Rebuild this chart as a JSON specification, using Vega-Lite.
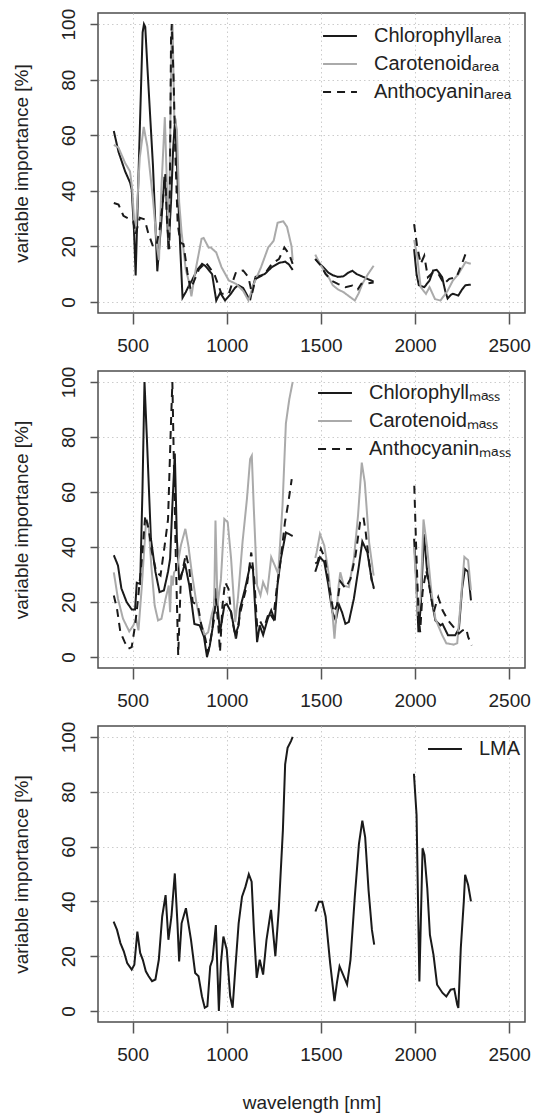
{
  "$schema": "https://vega.github.io/schema/vega-lite/v6.json",
  "padding": {"left": 11, "top": 7, "right": 0, "bottom": 0},
  "spacing": 9,
  "resolve": {"scale": {"color": "independent", "strokeDash": "independent"}, "legend": {"color": "independent", "strokeDash": "independent"}},
  "config": {
    "font": "Liberation Sans",
    "view": {"stroke": "#4d4d4d", "strokeWidth": 1.5},
    "axis": {
      "labelFontSize": 19, "labelColor": "#222", "titleFontSize": 19, "titleFontWeight": "normal", "titleColor": "#222",
      "domain": false, "tickColor": "#555", "tickWidth": 1.5, "gridColor": "#cccccc", "gridDash": [1.5, 3], "gridWidth": 1
    },
    "axisY": {"labelAngle": -90, "labelAlign": "center", "labelBaseline": "bottom", "tickSize": 8, "labelPadding": 12, "titlePadding": 28},
    "axisX": {"tickSize": 11, "labelPadding": 12, "labelBaseline": "top", "format": "d"},
    "legend": {"symbolType": "stroke", "symbolSize": 1150, "symbolStrokeWidth": 2, "labelFontSize": 20, "labelColor": "#222", "labelOffset": 16, "rowPadding": -10, "padding": 0, "titleFontSize": 0},
    "line": {"strokeWidth": 2}
  },
  "vconcat": [
    {
      "width": 427, "height": 300,
      "data": {"values": [
        {"pigment":"Chlorophyll","seg":1,"wl":400,"imp":61.5},{"pigment":"Chlorophyll","seg":1,"wl":425,"imp":54},{"pigment":"Chlorophyll","seg":1,"wl":460,"imp":47},{"pigment":"Chlorophyll","seg":1,"wl":486,"imp":43},{"pigment":"Chlorophyll","seg":1,"wl":495,"imp":40.5},{"pigment":"Chlorophyll","seg":1,"wl":507,"imp":26},{"pigment":"Chlorophyll","seg":1,"wl":516,"imp":9.5},{"pigment":"Chlorophyll","seg":1,"wl":535,"imp":55},{"pigment":"Chlorophyll","seg":1,"wl":553,"imp":97},{"pigment":"Chlorophyll","seg":1,"wl":560,"imp":100},{"pigment":"Chlorophyll","seg":1,"wl":567,"imp":99},{"pigment":"Chlorophyll","seg":1,"wl":578,"imp":85},{"pigment":"Chlorophyll","seg":1,"wl":608,"imp":49},{"pigment":"Chlorophyll","seg":1,"wl":631,"imp":11},{"pigment":"Chlorophyll","seg":1,"wl":652,"imp":28.5},{"pigment":"Chlorophyll","seg":1,"wl":669,"imp":45},{"pigment":"Chlorophyll","seg":1,"wl":678,"imp":40},{"pigment":"Chlorophyll","seg":1,"wl":690,"imp":19},{"pigment":"Chlorophyll","seg":1,"wl":704,"imp":36},{"pigment":"Chlorophyll","seg":1,"wl":715,"imp":55},{"pigment":"Chlorophyll","seg":1,"wl":726,"imp":66},{"pigment":"Chlorophyll","seg":1,"wl":739,"imp":43},{"pigment":"Chlorophyll","seg":1,"wl":753,"imp":19},{"pigment":"Chlorophyll","seg":1,"wl":765,"imp":1.5},{"pigment":"Chlorophyll","seg":1,"wl":782,"imp":3.5},{"pigment":"Chlorophyll","seg":1,"wl":800,"imp":6},{"pigment":"Chlorophyll","seg":1,"wl":817,"imp":8},{"pigment":"Chlorophyll","seg":1,"wl":843,"imp":11.5},{"pigment":"Chlorophyll","seg":1,"wl":869,"imp":13.7},{"pigment":"Chlorophyll","seg":1,"wl":885,"imp":13},{"pigment":"Chlorophyll","seg":1,"wl":904,"imp":11.5},{"pigment":"Chlorophyll","seg":1,"wl":922,"imp":10},{"pigment":"Chlorophyll","seg":1,"wl":944,"imp":0.5},{"pigment":"Chlorophyll","seg":1,"wl":965,"imp":3.3},{"pigment":"Chlorophyll","seg":1,"wl":991,"imp":0.5},{"pigment":"Chlorophyll","seg":1,"wl":1017,"imp":2.5},{"pigment":"Chlorophyll","seg":1,"wl":1043,"imp":5},{"pigment":"Chlorophyll","seg":1,"wl":1060,"imp":6},{"pigment":"Chlorophyll","seg":1,"wl":1087,"imp":5},{"pigment":"Chlorophyll","seg":1,"wl":1115,"imp":1.5},{"pigment":"Chlorophyll","seg":1,"wl":1125,"imp":1},{"pigment":"Chlorophyll","seg":1,"wl":1134,"imp":4},{"pigment":"Chlorophyll","seg":1,"wl":1153,"imp":9},{"pigment":"Chlorophyll","seg":1,"wl":1180,"imp":9.5},{"pigment":"Chlorophyll","seg":1,"wl":1201,"imp":10},{"pigment":"Chlorophyll","seg":1,"wl":1239,"imp":12.5},{"pigment":"Chlorophyll","seg":1,"wl":1277,"imp":14},{"pigment":"Chlorophyll","seg":1,"wl":1310,"imp":14.5},{"pigment":"Chlorophyll","seg":1,"wl":1330,"imp":13.5},{"pigment":"Chlorophyll","seg":1,"wl":1350,"imp":11.5},
        {"pigment":"Chlorophyll","seg":2,"wl":1470,"imp":15.5},{"pigment":"Chlorophyll","seg":2,"wl":1490,"imp":14},{"pigment":"Chlorophyll","seg":2,"wl":1515,"imp":12.3},{"pigment":"Chlorophyll","seg":2,"wl":1540,"imp":10.5},{"pigment":"Chlorophyll","seg":2,"wl":1563,"imp":9.6},{"pigment":"Chlorophyll","seg":2,"wl":1590,"imp":9},{"pigment":"Chlorophyll","seg":2,"wl":1620,"imp":9.2},{"pigment":"Chlorophyll","seg":2,"wl":1645,"imp":10.5},{"pigment":"Chlorophyll","seg":2,"wl":1667,"imp":11.2},{"pigment":"Chlorophyll","seg":2,"wl":1690,"imp":10},{"pigment":"Chlorophyll","seg":2,"wl":1715,"imp":9.3},{"pigment":"Chlorophyll","seg":2,"wl":1750,"imp":8.2},{"pigment":"Chlorophyll","seg":2,"wl":1780,"imp":7.3},
        {"pigment":"Chlorophyll","seg":3,"wl":1995,"imp":19},{"pigment":"Chlorophyll","seg":3,"wl":2008,"imp":10},{"pigment":"Chlorophyll","seg":3,"wl":2020,"imp":6},{"pigment":"Chlorophyll","seg":3,"wl":2049,"imp":5.3},{"pigment":"Chlorophyll","seg":3,"wl":2077,"imp":7.7},{"pigment":"Chlorophyll","seg":3,"wl":2096,"imp":11.3},{"pigment":"Chlorophyll","seg":3,"wl":2115,"imp":11.5},{"pigment":"Chlorophyll","seg":3,"wl":2125,"imp":10.7},{"pigment":"Chlorophyll","seg":3,"wl":2144,"imp":8.9},{"pigment":"Chlorophyll","seg":3,"wl":2160,"imp":4},{"pigment":"Chlorophyll","seg":3,"wl":2173,"imp":1.2},{"pigment":"Chlorophyll","seg":3,"wl":2190,"imp":2.5},{"pigment":"Chlorophyll","seg":3,"wl":2201,"imp":2.9},{"pigment":"Chlorophyll","seg":3,"wl":2230,"imp":2.3},{"pigment":"Chlorophyll","seg":3,"wl":2250,"imp":4.5},{"pigment":"Chlorophyll","seg":3,"wl":2268,"imp":6},{"pigment":"Chlorophyll","seg":3,"wl":2296,"imp":6.2},
        {"pigment":"Carotenoid","seg":1,"wl":400,"imp":56.5},{"pigment":"Carotenoid","seg":1,"wl":425,"imp":55.5},{"pigment":"Carotenoid","seg":1,"wl":460,"imp":50},{"pigment":"Carotenoid","seg":1,"wl":486,"imp":47},{"pigment":"Carotenoid","seg":1,"wl":498,"imp":40.5},{"pigment":"Carotenoid","seg":1,"wl":507,"imp":30},{"pigment":"Carotenoid","seg":1,"wl":516,"imp":25},{"pigment":"Carotenoid","seg":1,"wl":538,"imp":52},{"pigment":"Carotenoid","seg":1,"wl":559,"imp":63},{"pigment":"Carotenoid","seg":1,"wl":578,"imp":56},{"pigment":"Carotenoid","seg":1,"wl":608,"imp":37},{"pigment":"Carotenoid","seg":1,"wl":631,"imp":19},{"pigment":"Carotenoid","seg":1,"wl":640,"imp":15},{"pigment":"Carotenoid","seg":1,"wl":652,"imp":40},{"pigment":"Carotenoid","seg":1,"wl":671,"imp":66.5},{"pigment":"Carotenoid","seg":1,"wl":683,"imp":40},{"pigment":"Carotenoid","seg":1,"wl":692,"imp":22},{"pigment":"Carotenoid","seg":1,"wl":707,"imp":97},{"pigment":"Carotenoid","seg":1,"wl":712,"imp":100},{"pigment":"Carotenoid","seg":1,"wl":721,"imp":67},{"pigment":"Carotenoid","seg":1,"wl":735,"imp":62},{"pigment":"Carotenoid","seg":1,"wl":747,"imp":36},{"pigment":"Carotenoid","seg":1,"wl":760,"imp":25},{"pigment":"Carotenoid","seg":1,"wl":782,"imp":11.7},{"pigment":"Carotenoid","seg":1,"wl":800,"imp":7},{"pigment":"Carotenoid","seg":1,"wl":812,"imp":2},{"pigment":"Carotenoid","seg":1,"wl":835,"imp":11.7},{"pigment":"Carotenoid","seg":1,"wl":866,"imp":22.7},{"pigment":"Carotenoid","seg":1,"wl":877,"imp":23},{"pigment":"Carotenoid","seg":1,"wl":904,"imp":19.5},{"pigment":"Carotenoid","seg":1,"wl":915,"imp":19.6},{"pigment":"Carotenoid","seg":1,"wl":944,"imp":17.8},{"pigment":"Carotenoid","seg":1,"wl":972,"imp":12.5},{"pigment":"Carotenoid","seg":1,"wl":1011,"imp":7.7},{"pigment":"Carotenoid","seg":1,"wl":1049,"imp":6.5},{"pigment":"Carotenoid","seg":1,"wl":1087,"imp":4},{"pigment":"Carotenoid","seg":1,"wl":1115,"imp":0.5},{"pigment":"Carotenoid","seg":1,"wl":1144,"imp":6.5},{"pigment":"Carotenoid","seg":1,"wl":1182,"imp":12.5},{"pigment":"Carotenoid","seg":1,"wl":1220,"imp":19.6},{"pigment":"Carotenoid","seg":1,"wl":1249,"imp":22},{"pigment":"Carotenoid","seg":1,"wl":1270,"imp":28.5},{"pigment":"Carotenoid","seg":1,"wl":1300,"imp":29},{"pigment":"Carotenoid","seg":1,"wl":1320,"imp":27},{"pigment":"Carotenoid","seg":1,"wl":1344,"imp":20},{"pigment":"Carotenoid","seg":1,"wl":1350,"imp":15},
        {"pigment":"Carotenoid","seg":2,"wl":1470,"imp":17},{"pigment":"Carotenoid","seg":2,"wl":1500,"imp":13},{"pigment":"Carotenoid","seg":2,"wl":1540,"imp":9},{"pigment":"Carotenoid","seg":2,"wl":1563,"imp":6},{"pigment":"Carotenoid","seg":2,"wl":1590,"imp":4.5},{"pigment":"Carotenoid","seg":2,"wl":1620,"imp":3.5},{"pigment":"Carotenoid","seg":2,"wl":1660,"imp":1.5},{"pigment":"Carotenoid","seg":2,"wl":1680,"imp":0.5},{"pigment":"Carotenoid","seg":2,"wl":1700,"imp":3},{"pigment":"Carotenoid","seg":2,"wl":1720,"imp":6.5},{"pigment":"Carotenoid","seg":2,"wl":1750,"imp":10},{"pigment":"Carotenoid","seg":2,"wl":1780,"imp":13},
        {"pigment":"Carotenoid","seg":3,"wl":1995,"imp":22.3},{"pigment":"Carotenoid","seg":3,"wl":2010,"imp":17},{"pigment":"Carotenoid","seg":3,"wl":2030,"imp":5.3},{"pigment":"Carotenoid","seg":3,"wl":2058,"imp":2.9},{"pigment":"Carotenoid","seg":3,"wl":2077,"imp":5.3},{"pigment":"Carotenoid","seg":3,"wl":2106,"imp":1},{"pigment":"Carotenoid","seg":3,"wl":2135,"imp":0.5},{"pigment":"Carotenoid","seg":3,"wl":2173,"imp":4},{"pigment":"Carotenoid","seg":3,"wl":2201,"imp":7.7},{"pigment":"Carotenoid","seg":3,"wl":2230,"imp":10},{"pigment":"Carotenoid","seg":3,"wl":2268,"imp":14.3},{"pigment":"Carotenoid","seg":3,"wl":2296,"imp":13.7},
        {"pigment":"Anthocyanin","seg":1,"wl":400,"imp":35.6},{"pigment":"Anthocyanin","seg":1,"wl":425,"imp":35},{"pigment":"Anthocyanin","seg":1,"wl":451,"imp":31},{"pigment":"Anthocyanin","seg":1,"wl":486,"imp":29.7},{"pigment":"Anthocyanin","seg":1,"wl":503,"imp":29},{"pigment":"Anthocyanin","seg":1,"wl":516,"imp":24.3},{"pigment":"Anthocyanin","seg":1,"wl":538,"imp":30.3},{"pigment":"Anthocyanin","seg":1,"wl":564,"imp":29.7},{"pigment":"Anthocyanin","seg":1,"wl":582,"imp":25},{"pigment":"Anthocyanin","seg":1,"wl":608,"imp":20},{"pigment":"Anthocyanin","seg":1,"wl":625,"imp":20},{"pigment":"Anthocyanin","seg":1,"wl":643,"imp":26},{"pigment":"Anthocyanin","seg":1,"wl":660,"imp":35.6},{"pigment":"Anthocyanin","seg":1,"wl":673,"imp":46},{"pigment":"Anthocyanin","seg":1,"wl":683,"imp":28},{"pigment":"Anthocyanin","seg":1,"wl":695,"imp":19},{"pigment":"Anthocyanin","seg":1,"wl":704,"imp":95},{"pigment":"Anthocyanin","seg":1,"wl":708,"imp":100},{"pigment":"Anthocyanin","seg":1,"wl":718,"imp":79},{"pigment":"Anthocyanin","seg":1,"wl":726,"imp":55},{"pigment":"Anthocyanin","seg":1,"wl":739,"imp":28.5},{"pigment":"Anthocyanin","seg":1,"wl":753,"imp":21.3},{"pigment":"Anthocyanin","seg":1,"wl":770,"imp":20.8},{"pigment":"Anthocyanin","seg":1,"wl":791,"imp":10.5},{"pigment":"Anthocyanin","seg":1,"wl":808,"imp":4.5},{"pigment":"Anthocyanin","seg":1,"wl":826,"imp":7.5},{"pigment":"Anthocyanin","seg":1,"wl":852,"imp":11.7},{"pigment":"Anthocyanin","seg":1,"wl":878,"imp":13.5},{"pigment":"Anthocyanin","seg":1,"wl":887,"imp":14.3},{"pigment":"Anthocyanin","seg":1,"wl":934,"imp":10},{"pigment":"Anthocyanin","seg":1,"wl":972,"imp":2.9},{"pigment":"Anthocyanin","seg":1,"wl":1011,"imp":2.9},{"pigment":"Anthocyanin","seg":1,"wl":1030,"imp":7},{"pigment":"Anthocyanin","seg":1,"wl":1049,"imp":10.7},{"pigment":"Anthocyanin","seg":1,"wl":1087,"imp":11.3},{"pigment":"Anthocyanin","seg":1,"wl":1115,"imp":8.9},{"pigment":"Anthocyanin","seg":1,"wl":1134,"imp":2.9},{"pigment":"Anthocyanin","seg":1,"wl":1153,"imp":8.3},{"pigment":"Anthocyanin","seg":1,"wl":1201,"imp":10},{"pigment":"Anthocyanin","seg":1,"wl":1239,"imp":13.7},{"pigment":"Anthocyanin","seg":1,"wl":1277,"imp":15.4},{"pigment":"Anthocyanin","seg":1,"wl":1306,"imp":19.6},{"pigment":"Anthocyanin","seg":1,"wl":1331,"imp":17.2},{"pigment":"Anthocyanin","seg":1,"wl":1350,"imp":13.7},
        {"pigment":"Anthocyanin","seg":2,"wl":1470,"imp":15.4},{"pigment":"Anthocyanin","seg":2,"wl":1500,"imp":13},{"pigment":"Anthocyanin","seg":2,"wl":1525,"imp":10},{"pigment":"Anthocyanin","seg":2,"wl":1560,"imp":7.5},{"pigment":"Anthocyanin","seg":2,"wl":1590,"imp":6.5},{"pigment":"Anthocyanin","seg":2,"wl":1630,"imp":5.3},{"pigment":"Anthocyanin","seg":2,"wl":1667,"imp":5.9},{"pigment":"Anthocyanin","seg":2,"wl":1696,"imp":4.5},{"pigment":"Anthocyanin","seg":2,"wl":1715,"imp":6.5},{"pigment":"Anthocyanin","seg":2,"wl":1740,"imp":6.6},{"pigment":"Anthocyanin","seg":2,"wl":1780,"imp":7},
        {"pigment":"Anthocyanin","seg":3,"wl":1995,"imp":28},{"pigment":"Anthocyanin","seg":3,"wl":2011,"imp":20},{"pigment":"Anthocyanin","seg":3,"wl":2030,"imp":13.7},{"pigment":"Anthocyanin","seg":3,"wl":2049,"imp":16.6},{"pigment":"Anthocyanin","seg":3,"wl":2068,"imp":8.9},{"pigment":"Anthocyanin","seg":3,"wl":2096,"imp":10.7},{"pigment":"Anthocyanin","seg":3,"wl":2125,"imp":10},{"pigment":"Anthocyanin","seg":3,"wl":2154,"imp":6.5},{"pigment":"Anthocyanin","seg":3,"wl":2182,"imp":8.3},{"pigment":"Anthocyanin","seg":3,"wl":2220,"imp":8.9},{"pigment":"Anthocyanin","seg":3,"wl":2249,"imp":13.7},{"pigment":"Anthocyanin","seg":3,"wl":2268,"imp":17.2},{"pigment":"Anthocyanin","seg":3,"wl":2280,"imp":17}
      ]},
      "mark": {"type": "line", "strokeWidth": 2},
      "encoding": {
        "x": {"field": "wl", "type": "quantitative", "scale": {"domain": [316, 2584], "nice": false, "zero": false}, "axis": {"values": [500, 1000, 1500, 2000, 2500], "grid": true, "title": null}},
        "y": {"field": "imp", "type": "quantitative", "scale": {"domain": [-4, 104], "nice": false}, "axis": {"values": [0, 20, 40, 60, 80, 100], "grid": true, "title": "variable importance [%]"}},
        "detail": {"field": "seg"},
        "color": {"field": "pigment", "type": "nominal", "scale": {"domain": ["Chlorophyll", "Carotenoid", "Anthocyanin"], "range": ["#1a1a1a", "#aaaaaa", "#1a1a1a"]}, "legend": {"orient": "none", "legendX": 224, "legendY": 5, "labelExpr": "datum.label + 'ₐᵣₑₐ'", "title": null}},
        "strokeDash": {"field": "pigment", "type": "nominal", "scale": {"domain": ["Chlorophyll", "Carotenoid", "Anthocyanin"], "range": [[1, 0], [1, 0], [8, 6]]}, "legend": {"orient": "none", "legendX": 224, "legendY": 5, "labelExpr": "datum.label + 'ₐᵣₑₐ'", "title": null}}
      }
    },
    {
      "width": 427, "height": 297,
      "data": {"values": [
        {"pigment":"Chlorophyll","seg":1,"wl":400,"imp":37},{"pigment":"Chlorophyll","seg":1,"wl":422,"imp":33.3},{"pigment":"Chlorophyll","seg":1,"wl":440,"imp":25},{"pigment":"Chlorophyll","seg":1,"wl":468,"imp":20},{"pigment":"Chlorophyll","seg":1,"wl":495,"imp":17.3},{"pigment":"Chlorophyll","seg":1,"wl":513,"imp":17.3},{"pigment":"Chlorophyll","seg":1,"wl":522,"imp":27},{"pigment":"Chlorophyll","seg":1,"wl":540,"imp":26.6},{"pigment":"Chlorophyll","seg":1,"wl":552,"imp":60},{"pigment":"Chlorophyll","seg":1,"wl":563,"imp":100},{"pigment":"Chlorophyll","seg":1,"wl":576,"imp":79},{"pigment":"Chlorophyll","seg":1,"wl":597,"imp":43},{"pigment":"Chlorophyll","seg":1,"wl":621,"imp":31},{"pigment":"Chlorophyll","seg":1,"wl":643,"imp":23.6},{"pigment":"Chlorophyll","seg":1,"wl":666,"imp":24.2},{"pigment":"Chlorophyll","seg":1,"wl":688,"imp":31},{"pigment":"Chlorophyll","seg":1,"wl":699,"imp":35.7},{"pigment":"Chlorophyll","seg":1,"wl":711,"imp":55},{"pigment":"Chlorophyll","seg":1,"wl":724,"imp":74},{"pigment":"Chlorophyll","seg":1,"wl":735,"imp":43},{"pigment":"Chlorophyll","seg":1,"wl":747,"imp":28},{"pigment":"Chlorophyll","seg":1,"wl":765,"imp":31},{"pigment":"Chlorophyll","seg":1,"wl":778,"imp":34},{"pigment":"Chlorophyll","seg":1,"wl":801,"imp":26},{"pigment":"Chlorophyll","seg":1,"wl":828,"imp":12},{"pigment":"Chlorophyll","seg":1,"wl":856,"imp":11.5},{"pigment":"Chlorophyll","seg":1,"wl":879,"imp":7.3},{"pigment":"Chlorophyll","seg":1,"wl":895,"imp":0},{"pigment":"Chlorophyll","seg":1,"wl":910,"imp":4.2},{"pigment":"Chlorophyll","seg":1,"wl":924,"imp":10.3},{"pigment":"Chlorophyll","seg":1,"wl":940,"imp":25},{"pigment":"Chlorophyll","seg":1,"wl":951,"imp":18.7},{"pigment":"Chlorophyll","seg":1,"wl":964,"imp":9},{"pigment":"Chlorophyll","seg":1,"wl":987,"imp":18.7},{"pigment":"Chlorophyll","seg":1,"wl":1000,"imp":19.3},{"pigment":"Chlorophyll","seg":1,"wl":1023,"imp":16.3},{"pigment":"Chlorophyll","seg":1,"wl":1045,"imp":8},{"pigment":"Chlorophyll","seg":1,"wl":1063,"imp":11.5},{"pigment":"Chlorophyll","seg":1,"wl":1070,"imp":17.5},{"pigment":"Chlorophyll","seg":1,"wl":1097,"imp":24.8},{"pigment":"Chlorophyll","seg":1,"wl":1124,"imp":33.3},{"pigment":"Chlorophyll","seg":1,"wl":1139,"imp":32},{"pigment":"Chlorophyll","seg":1,"wl":1152,"imp":16.3},{"pigment":"Chlorophyll","seg":1,"wl":1161,"imp":5.4},{"pigment":"Chlorophyll","seg":1,"wl":1175,"imp":11.5},{"pigment":"Chlorophyll","seg":1,"wl":1193,"imp":8},{"pigment":"Chlorophyll","seg":1,"wl":1218,"imp":14},{"pigment":"Chlorophyll","seg":1,"wl":1236,"imp":17},{"pigment":"Chlorophyll","seg":1,"wl":1255,"imp":13.3},{"pigment":"Chlorophyll","seg":1,"wl":1269,"imp":26},{"pigment":"Chlorophyll","seg":1,"wl":1287,"imp":35.7},{"pigment":"Chlorophyll","seg":1,"wl":1314,"imp":45.3},{"pigment":"Chlorophyll","seg":1,"wl":1338,"imp":44.4},{"pigment":"Chlorophyll","seg":1,"wl":1350,"imp":44},
        {"pigment":"Chlorophyll","seg":2,"wl":1470,"imp":31},{"pigment":"Chlorophyll","seg":2,"wl":1495,"imp":36.3},{"pigment":"Chlorophyll","seg":2,"wl":1518,"imp":34.5},{"pigment":"Chlorophyll","seg":2,"wl":1540,"imp":26},{"pigment":"Chlorophyll","seg":2,"wl":1561,"imp":16.3},{"pigment":"Chlorophyll","seg":2,"wl":1579,"imp":13.3},{"pigment":"Chlorophyll","seg":2,"wl":1596,"imp":19},{"pigment":"Chlorophyll","seg":2,"wl":1612,"imp":16.3},{"pigment":"Chlorophyll","seg":2,"wl":1630,"imp":12.1},{"pigment":"Chlorophyll","seg":2,"wl":1648,"imp":12.7},{"pigment":"Chlorophyll","seg":2,"wl":1675,"imp":21.2},{"pigment":"Chlorophyll","seg":2,"wl":1702,"imp":33.3},{"pigment":"Chlorophyll","seg":2,"wl":1720,"imp":42},{"pigment":"Chlorophyll","seg":2,"wl":1747,"imp":38},{"pigment":"Chlorophyll","seg":2,"wl":1769,"imp":28.4},{"pigment":"Chlorophyll","seg":2,"wl":1780,"imp":25.4},
        {"pigment":"Chlorophyll","seg":3,"wl":1995,"imp":43},{"pigment":"Chlorophyll","seg":3,"wl":2005,"imp":30},{"pigment":"Chlorophyll","seg":3,"wl":2018,"imp":9},{"pigment":"Chlorophyll","seg":3,"wl":2030,"imp":18},{"pigment":"Chlorophyll","seg":3,"wl":2047,"imp":44.7},{"pigment":"Chlorophyll","seg":3,"wl":2063,"imp":32},{"pigment":"Chlorophyll","seg":3,"wl":2090,"imp":20},{"pigment":"Chlorophyll","seg":3,"wl":2108,"imp":13.3},{"pigment":"Chlorophyll","seg":3,"wl":2135,"imp":11.5},{"pigment":"Chlorophyll","seg":3,"wl":2146,"imp":12},{"pigment":"Chlorophyll","seg":3,"wl":2175,"imp":7.9},{"pigment":"Chlorophyll","seg":3,"wl":2213,"imp":7.9},{"pigment":"Chlorophyll","seg":3,"wl":2233,"imp":10.3},{"pigment":"Chlorophyll","seg":3,"wl":2250,"imp":25},{"pigment":"Chlorophyll","seg":3,"wl":2265,"imp":32},{"pigment":"Chlorophyll","seg":3,"wl":2282,"imp":31},{"pigment":"Chlorophyll","seg":3,"wl":2297,"imp":20.6},
        {"pigment":"Carotenoid","seg":1,"wl":400,"imp":30.8},{"pigment":"Carotenoid","seg":1,"wl":422,"imp":21.2},{"pigment":"Carotenoid","seg":1,"wl":449,"imp":13.9},{"pigment":"Carotenoid","seg":1,"wl":482,"imp":9.3},{"pigment":"Carotenoid","seg":1,"wl":504,"imp":11.5},{"pigment":"Carotenoid","seg":1,"wl":518,"imp":13.9},{"pigment":"Carotenoid","seg":1,"wl":531,"imp":9.7},{"pigment":"Carotenoid","seg":1,"wl":549,"imp":26},{"pigment":"Carotenoid","seg":1,"wl":572,"imp":50.2},{"pigment":"Carotenoid","seg":1,"wl":585,"imp":47.8},{"pigment":"Carotenoid","seg":1,"wl":599,"imp":33.3},{"pigment":"Carotenoid","seg":1,"wl":617,"imp":18.7},{"pigment":"Carotenoid","seg":1,"wl":635,"imp":13.3},{"pigment":"Carotenoid","seg":1,"wl":653,"imp":13.9},{"pigment":"Carotenoid","seg":1,"wl":675,"imp":21.2},{"pigment":"Carotenoid","seg":1,"wl":692,"imp":26},{"pigment":"Carotenoid","seg":1,"wl":699,"imp":16.3},{"pigment":"Carotenoid","seg":1,"wl":706,"imp":29.6},{"pigment":"Carotenoid","seg":1,"wl":713,"imp":26},{"pigment":"Carotenoid","seg":1,"wl":720,"imp":30.8},{"pigment":"Carotenoid","seg":1,"wl":735,"imp":32},{"pigment":"Carotenoid","seg":1,"wl":756,"imp":40.5},{"pigment":"Carotenoid","seg":1,"wl":780,"imp":46.6},{"pigment":"Carotenoid","seg":1,"wl":796,"imp":40.5},{"pigment":"Carotenoid","seg":1,"wl":814,"imp":30.8},{"pigment":"Carotenoid","seg":1,"wl":838,"imp":20},{"pigment":"Carotenoid","seg":1,"wl":856,"imp":13.9},{"pigment":"Carotenoid","seg":1,"wl":883,"imp":7.9},{"pigment":"Carotenoid","seg":1,"wl":901,"imp":9},{"pigment":"Carotenoid","seg":1,"wl":919,"imp":15.1},{"pigment":"Carotenoid","seg":1,"wl":933,"imp":18.7},{"pigment":"Carotenoid","seg":1,"wl":940,"imp":49.6},{"pigment":"Carotenoid","seg":1,"wl":951,"imp":18.7},{"pigment":"Carotenoid","seg":1,"wl":969,"imp":28.4},{"pigment":"Carotenoid","seg":1,"wl":987,"imp":50.2},{"pigment":"Carotenoid","seg":1,"wl":1005,"imp":49},{"pigment":"Carotenoid","seg":1,"wl":1023,"imp":35.7},{"pigment":"Carotenoid","seg":1,"wl":1045,"imp":12.7},{"pigment":"Carotenoid","seg":1,"wl":1060,"imp":22},{"pigment":"Carotenoid","seg":1,"wl":1084,"imp":42},{"pigment":"Carotenoid","seg":1,"wl":1107,"imp":57.4},{"pigment":"Carotenoid","seg":1,"wl":1124,"imp":72},{"pigment":"Carotenoid","seg":1,"wl":1133,"imp":73.2},{"pigment":"Carotenoid","seg":1,"wl":1143,"imp":55},{"pigment":"Carotenoid","seg":1,"wl":1161,"imp":26},{"pigment":"Carotenoid","seg":1,"wl":1179,"imp":22.4},{"pigment":"Carotenoid","seg":1,"wl":1193,"imp":27.2},{"pigment":"Carotenoid","seg":1,"wl":1215,"imp":23.6},{"pigment":"Carotenoid","seg":1,"wl":1236,"imp":36.3},{"pigment":"Carotenoid","seg":1,"wl":1255,"imp":33.3},{"pigment":"Carotenoid","seg":1,"wl":1273,"imp":30.2},{"pigment":"Carotenoid","seg":1,"wl":1296,"imp":55},{"pigment":"Carotenoid","seg":1,"wl":1314,"imp":85},{"pigment":"Carotenoid","seg":1,"wl":1332,"imp":93.7},{"pigment":"Carotenoid","seg":1,"wl":1350,"imp":100},
        {"pigment":"Carotenoid","seg":2,"wl":1470,"imp":36},{"pigment":"Carotenoid","seg":2,"wl":1477,"imp":38},{"pigment":"Carotenoid","seg":2,"wl":1495,"imp":44.7},{"pigment":"Carotenoid","seg":2,"wl":1518,"imp":40.5},{"pigment":"Carotenoid","seg":2,"wl":1540,"imp":30.8},{"pigment":"Carotenoid","seg":2,"wl":1558,"imp":18.7},{"pigment":"Carotenoid","seg":2,"wl":1572,"imp":6.7},{"pigment":"Carotenoid","seg":2,"wl":1594,"imp":26},{"pigment":"Carotenoid","seg":2,"wl":1603,"imp":30.8},{"pigment":"Carotenoid","seg":2,"wl":1621,"imp":26},{"pigment":"Carotenoid","seg":2,"wl":1648,"imp":25.4},{"pigment":"Carotenoid","seg":2,"wl":1675,"imp":35.7},{"pigment":"Carotenoid","seg":2,"wl":1697,"imp":51.4},{"pigment":"Carotenoid","seg":2,"wl":1717,"imp":70.7},{"pigment":"Carotenoid","seg":2,"wl":1733,"imp":63.5},{"pigment":"Carotenoid","seg":2,"wl":1756,"imp":41.7},{"pigment":"Carotenoid","seg":2,"wl":1780,"imp":29.6},
        {"pigment":"Carotenoid","seg":3,"wl":1995,"imp":40},{"pigment":"Carotenoid","seg":3,"wl":2015,"imp":15},{"pigment":"Carotenoid","seg":3,"wl":2030,"imp":22},{"pigment":"Carotenoid","seg":3,"wl":2045,"imp":50},{"pigment":"Carotenoid","seg":3,"wl":2063,"imp":40.5},{"pigment":"Carotenoid","seg":3,"wl":2087,"imp":23.6},{"pigment":"Carotenoid","seg":3,"wl":2108,"imp":13.9},{"pigment":"Carotenoid","seg":3,"wl":2144,"imp":8},{"pigment":"Carotenoid","seg":3,"wl":2166,"imp":5},{"pigment":"Carotenoid","seg":3,"wl":2205,"imp":4.5},{"pigment":"Carotenoid","seg":3,"wl":2224,"imp":5},{"pigment":"Carotenoid","seg":3,"wl":2245,"imp":22},{"pigment":"Carotenoid","seg":3,"wl":2262,"imp":36.4},{"pigment":"Carotenoid","seg":3,"wl":2282,"imp":35.2},{"pigment":"Carotenoid","seg":3,"wl":2297,"imp":24.2},
        {"pigment":"Anthocyanin","seg":1,"wl":400,"imp":22.4},{"pigment":"Anthocyanin","seg":1,"wl":417,"imp":17.5},{"pigment":"Anthocyanin","seg":1,"wl":435,"imp":9},{"pigment":"Anthocyanin","seg":1,"wl":458,"imp":5.4},{"pigment":"Anthocyanin","seg":1,"wl":477,"imp":3},{"pigment":"Anthocyanin","seg":1,"wl":495,"imp":3.6},{"pigment":"Anthocyanin","seg":1,"wl":513,"imp":11.5},{"pigment":"Anthocyanin","seg":1,"wl":527,"imp":20},{"pigment":"Anthocyanin","seg":1,"wl":549,"imp":35.7},{"pigment":"Anthocyanin","seg":1,"wl":567,"imp":51.4},{"pigment":"Anthocyanin","seg":1,"wl":585,"imp":46.6},{"pigment":"Anthocyanin","seg":1,"wl":603,"imp":38},{"pigment":"Anthocyanin","seg":1,"wl":626,"imp":30.8},{"pigment":"Anthocyanin","seg":1,"wl":648,"imp":29.6},{"pigment":"Anthocyanin","seg":1,"wl":670,"imp":40.5},{"pigment":"Anthocyanin","seg":1,"wl":688,"imp":50},{"pigment":"Anthocyanin","seg":1,"wl":702,"imp":81.6},{"pigment":"Anthocyanin","seg":1,"wl":711,"imp":100},{"pigment":"Anthocyanin","seg":1,"wl":720,"imp":67},{"pigment":"Anthocyanin","seg":1,"wl":729,"imp":37},{"pigment":"Anthocyanin","seg":1,"wl":742,"imp":0.6},{"pigment":"Anthocyanin","seg":1,"wl":756,"imp":28.4},{"pigment":"Anthocyanin","seg":1,"wl":783,"imp":37.5},{"pigment":"Anthocyanin","seg":1,"wl":801,"imp":32},{"pigment":"Anthocyanin","seg":1,"wl":819,"imp":20},{"pigment":"Anthocyanin","seg":1,"wl":847,"imp":18.7},{"pigment":"Anthocyanin","seg":1,"wl":865,"imp":11.5},{"pigment":"Anthocyanin","seg":1,"wl":886,"imp":6.7},{"pigment":"Anthocyanin","seg":1,"wl":901,"imp":1.8},{"pigment":"Anthocyanin","seg":1,"wl":915,"imp":6.7},{"pigment":"Anthocyanin","seg":1,"wl":933,"imp":13.9},{"pigment":"Anthocyanin","seg":1,"wl":942,"imp":21.2},{"pigment":"Anthocyanin","seg":1,"wl":955,"imp":11.5},{"pigment":"Anthocyanin","seg":1,"wl":964,"imp":1.8},{"pigment":"Anthocyanin","seg":1,"wl":977,"imp":18.7},{"pigment":"Anthocyanin","seg":1,"wl":991,"imp":27.2},{"pigment":"Anthocyanin","seg":1,"wl":1009,"imp":24.8},{"pigment":"Anthocyanin","seg":1,"wl":1027,"imp":13.9},{"pigment":"Anthocyanin","seg":1,"wl":1049,"imp":6.7},{"pigment":"Anthocyanin","seg":1,"wl":1072,"imp":16.3},{"pigment":"Anthocyanin","seg":1,"wl":1085,"imp":20},{"pigment":"Anthocyanin","seg":1,"wl":1107,"imp":26},{"pigment":"Anthocyanin","seg":1,"wl":1130,"imp":38},{"pigment":"Anthocyanin","seg":1,"wl":1146,"imp":28.4},{"pigment":"Anthocyanin","seg":1,"wl":1161,"imp":11.5},{"pigment":"Anthocyanin","seg":1,"wl":1175,"imp":13.3},{"pigment":"Anthocyanin","seg":1,"wl":1197,"imp":10.3},{"pigment":"Anthocyanin","seg":1,"wl":1224,"imp":16.3},{"pigment":"Anthocyanin","seg":1,"wl":1247,"imp":13.9},{"pigment":"Anthocyanin","seg":1,"wl":1265,"imp":24.8},{"pigment":"Anthocyanin","seg":1,"wl":1287,"imp":35.7},{"pigment":"Anthocyanin","seg":1,"wl":1309,"imp":49},{"pigment":"Anthocyanin","seg":1,"wl":1327,"imp":56.2},{"pigment":"Anthocyanin","seg":1,"wl":1345,"imp":64.7},
        {"pigment":"Anthocyanin","seg":2,"wl":1470,"imp":34},{"pigment":"Anthocyanin","seg":2,"wl":1482,"imp":34.5},{"pigment":"Anthocyanin","seg":2,"wl":1500,"imp":39.3},{"pigment":"Anthocyanin","seg":2,"wl":1522,"imp":35.7},{"pigment":"Anthocyanin","seg":2,"wl":1543,"imp":26},{"pigment":"Anthocyanin","seg":2,"wl":1567,"imp":16.3},{"pigment":"Anthocyanin","seg":2,"wl":1585,"imp":18.7},{"pigment":"Anthocyanin","seg":2,"wl":1603,"imp":27.5},{"pigment":"Anthocyanin","seg":2,"wl":1630,"imp":25},{"pigment":"Anthocyanin","seg":2,"wl":1657,"imp":28.4},{"pigment":"Anthocyanin","seg":2,"wl":1684,"imp":37},{"pigment":"Anthocyanin","seg":2,"wl":1708,"imp":49},{"pigment":"Anthocyanin","seg":2,"wl":1726,"imp":50.8},{"pigment":"Anthocyanin","seg":2,"wl":1738,"imp":45.3},{"pigment":"Anthocyanin","seg":2,"wl":1756,"imp":34.5},{"pigment":"Anthocyanin","seg":2,"wl":1774,"imp":26},{"pigment":"Anthocyanin","seg":2,"wl":1783,"imp":24.8},
        {"pigment":"Anthocyanin","seg":3,"wl":1996,"imp":62.3},{"pigment":"Anthocyanin","seg":3,"wl":2005,"imp":41.7},{"pigment":"Anthocyanin","seg":3,"wl":2018,"imp":16.3},{"pigment":"Anthocyanin","seg":3,"wl":2027,"imp":9},{"pigment":"Anthocyanin","seg":3,"wl":2040,"imp":23.6},{"pigment":"Anthocyanin","seg":3,"wl":2059,"imp":31.5},{"pigment":"Anthocyanin","seg":3,"wl":2072,"imp":27.2},{"pigment":"Anthocyanin","seg":3,"wl":2099,"imp":16.3},{"pigment":"Anthocyanin","seg":3,"wl":2117,"imp":20.6},{"pigment":"Anthocyanin","seg":3,"wl":2123,"imp":21.8},{"pigment":"Anthocyanin","seg":3,"wl":2146,"imp":17},{"pigment":"Anthocyanin","seg":3,"wl":2175,"imp":13.3},{"pigment":"Anthocyanin","seg":3,"wl":2205,"imp":10.9},{"pigment":"Anthocyanin","seg":3,"wl":2233,"imp":8.5},{"pigment":"Anthocyanin","seg":3,"wl":2253,"imp":9.7},{"pigment":"Anthocyanin","seg":3,"wl":2272,"imp":10.3},{"pigment":"Anthocyanin","seg":3,"wl":2282,"imp":7.3},{"pigment":"Anthocyanin","seg":3,"wl":2301,"imp":4.2}
      ]},
      "mark": {"type": "line", "strokeWidth": 2},
      "encoding": {
        "x": {"field": "wl", "type": "quantitative", "scale": {"domain": [316, 2584], "nice": false, "zero": false}, "axis": {"values": [500, 1000, 1500, 2000, 2500], "grid": true, "title": null}},
        "y": {"field": "imp", "type": "quantitative", "scale": {"domain": [-4, 104], "nice": false}, "axis": {"values": [0, 20, 40, 60, 80, 100], "grid": true, "title": "variable importance [%]"}},
        "detail": {"field": "seg"},
        "color": {"field": "pigment", "type": "nominal", "scale": {"domain": ["Chlorophyll", "Carotenoid", "Anthocyanin"], "range": ["#1a1a1a", "#aaaaaa", "#1a1a1a"]}, "legend": {"orient": "none", "legendX": 219, "legendY": 4, "labelExpr": "datum.label + 'ₘₐₛₛ'", "title": null}},
        "strokeDash": {"field": "pigment", "type": "nominal", "scale": {"domain": ["Chlorophyll", "Carotenoid", "Anthocyanin"], "range": [[1, 0], [1, 0], [8, 6]]}, "legend": {"orient": "none", "legendX": 219, "legendY": 4, "labelExpr": "datum.label + 'ₘₐₛₛ'", "title": null}}
      }
    },
    {
      "width": 427, "height": 296,
      "data": {"values": [
        {"trait":"LMA","seg":1,"wl":399,"imp":32.6},{"trait":"LMA","seg":1,"wl":417,"imp":29.6},{"trait":"LMA","seg":1,"wl":435,"imp":24.8},{"trait":"LMA","seg":1,"wl":453,"imp":21.8},{"trait":"LMA","seg":1,"wl":471,"imp":17.5},{"trait":"LMA","seg":1,"wl":495,"imp":15.1},{"trait":"LMA","seg":1,"wl":509,"imp":16.9},{"trait":"LMA","seg":1,"wl":525,"imp":29},{"trait":"LMA","seg":1,"wl":540,"imp":21.2},{"trait":"LMA","seg":1,"wl":554,"imp":18.7},{"trait":"LMA","seg":1,"wl":570,"imp":14.5},{"trait":"LMA","seg":1,"wl":585,"imp":12.7},{"trait":"LMA","seg":1,"wl":603,"imp":10.9},{"trait":"LMA","seg":1,"wl":621,"imp":11.5},{"trait":"LMA","seg":1,"wl":639,"imp":18.7},{"trait":"LMA","seg":1,"wl":657,"imp":34.5},{"trait":"LMA","seg":1,"wl":675,"imp":42.3},{"trait":"LMA","seg":1,"wl":690,"imp":26},{"trait":"LMA","seg":1,"wl":706,"imp":34.5},{"trait":"LMA","seg":1,"wl":724,"imp":50.2},{"trait":"LMA","seg":1,"wl":738,"imp":32},{"trait":"LMA","seg":1,"wl":747,"imp":18.1},{"trait":"LMA","seg":1,"wl":760,"imp":32},{"trait":"LMA","seg":1,"wl":783,"imp":37.5},{"trait":"LMA","seg":1,"wl":810,"imp":26},{"trait":"LMA","seg":1,"wl":832,"imp":13.9},{"trait":"LMA","seg":1,"wl":850,"imp":12.7},{"trait":"LMA","seg":1,"wl":868,"imp":5.4},{"trait":"LMA","seg":1,"wl":883,"imp":1.2},{"trait":"LMA","seg":1,"wl":897,"imp":1.8},{"trait":"LMA","seg":1,"wl":912,"imp":16.3},{"trait":"LMA","seg":1,"wl":924,"imp":18.7},{"trait":"LMA","seg":1,"wl":942,"imp":31.4},{"trait":"LMA","seg":1,"wl":949,"imp":17.5},{"trait":"LMA","seg":1,"wl":958,"imp":0},{"trait":"LMA","seg":1,"wl":969,"imp":17.5},{"trait":"LMA","seg":1,"wl":982,"imp":27.2},{"trait":"LMA","seg":1,"wl":1000,"imp":22.4},{"trait":"LMA","seg":1,"wl":1018,"imp":5.4},{"trait":"LMA","seg":1,"wl":1031,"imp":1.2},{"trait":"LMA","seg":1,"wl":1045,"imp":15.1},{"trait":"LMA","seg":1,"wl":1063,"imp":32},{"trait":"LMA","seg":1,"wl":1081,"imp":41.7},{"trait":"LMA","seg":1,"wl":1099,"imp":45.3},{"trait":"LMA","seg":1,"wl":1117,"imp":49.9},{"trait":"LMA","seg":1,"wl":1132,"imp":47.2},{"trait":"LMA","seg":1,"wl":1144,"imp":29.6},{"trait":"LMA","seg":1,"wl":1159,"imp":12.1},{"trait":"LMA","seg":1,"wl":1175,"imp":18.7},{"trait":"LMA","seg":1,"wl":1193,"imp":13.3},{"trait":"LMA","seg":1,"wl":1211,"imp":26},{"trait":"LMA","seg":1,"wl":1235,"imp":36.9},{"trait":"LMA","seg":1,"wl":1258,"imp":20},{"trait":"LMA","seg":1,"wl":1276,"imp":36.9},{"trait":"LMA","seg":1,"wl":1298,"imp":65.9},{"trait":"LMA","seg":1,"wl":1310,"imp":90},{"trait":"LMA","seg":1,"wl":1323,"imp":96},{"trait":"LMA","seg":1,"wl":1341,"imp":98.5},{"trait":"LMA","seg":1,"wl":1350,"imp":100},
        {"trait":"LMA","seg":2,"wl":1471,"imp":36.3},{"trait":"LMA","seg":2,"wl":1489,"imp":39.9},{"trait":"LMA","seg":2,"wl":1507,"imp":39.9},{"trait":"LMA","seg":2,"wl":1525,"imp":34.5},{"trait":"LMA","seg":2,"wl":1549,"imp":17.5},{"trait":"LMA","seg":2,"wl":1572,"imp":3.6},{"trait":"LMA","seg":2,"wl":1585,"imp":10.3},{"trait":"LMA","seg":2,"wl":1599,"imp":16.3},{"trait":"LMA","seg":2,"wl":1621,"imp":12.7},{"trait":"LMA","seg":2,"wl":1639,"imp":9.7},{"trait":"LMA","seg":2,"wl":1657,"imp":18.7},{"trait":"LMA","seg":2,"wl":1680,"imp":41.7},{"trait":"LMA","seg":2,"wl":1702,"imp":61},{"trait":"LMA","seg":2,"wl":1720,"imp":69.5},{"trait":"LMA","seg":2,"wl":1735,"imp":63.5},{"trait":"LMA","seg":2,"wl":1753,"imp":44.1},{"trait":"LMA","seg":2,"wl":1771,"imp":29.6},{"trait":"LMA","seg":2,"wl":1783,"imp":24.2},
        {"trait":"LMA","seg":3,"wl":1994,"imp":86.6},{"trait":"LMA","seg":3,"wl":2008,"imp":71.6},{"trait":"LMA","seg":3,"wl":2023,"imp":10.8},{"trait":"LMA","seg":3,"wl":2040,"imp":59.4},{"trait":"LMA","seg":3,"wl":2050,"imp":57},{"trait":"LMA","seg":3,"wl":2065,"imp":44.8},{"trait":"LMA","seg":3,"wl":2079,"imp":27.8},{"trait":"LMA","seg":3,"wl":2098,"imp":20.5},{"trait":"LMA","seg":3,"wl":2117,"imp":9.6},{"trait":"LMA","seg":3,"wl":2146,"imp":6.6},{"trait":"LMA","seg":3,"wl":2166,"imp":5.3},{"trait":"LMA","seg":3,"wl":2189,"imp":7.8},{"trait":"LMA","seg":3,"wl":2208,"imp":8.1},{"trait":"LMA","seg":3,"wl":2224,"imp":2.3},{"trait":"LMA","seg":3,"wl":2230,"imp":1.1},{"trait":"LMA","seg":3,"wl":2243,"imp":23},{"trait":"LMA","seg":3,"wl":2259,"imp":40},{"trait":"LMA","seg":3,"wl":2266,"imp":49.7},{"trait":"LMA","seg":3,"wl":2282,"imp":46},{"trait":"LMA","seg":3,"wl":2297,"imp":40}
      ]},
      "mark": {"type": "line", "strokeWidth": 2},
      "encoding": {
        "x": {"field": "wl", "type": "quantitative", "scale": {"domain": [316, 2584], "nice": false, "zero": false}, "axis": {"values": [500, 1000, 1500, 2000, 2500], "grid": true, "title": "wavelength [nm]", "titlePadding": 29}},
        "y": {"field": "imp", "type": "quantitative", "scale": {"domain": [-4, 104], "nice": false}, "axis": {"values": [0, 20, 40, 60, 80, 100], "grid": true, "title": "variable importance [%]"}},
        "detail": {"field": "seg"},
        "color": {"field": "trait", "type": "nominal", "scale": {"domain": ["LMA"], "range": ["#1a1a1a"]}, "legend": {"orient": "none", "legendX": 329, "legendY": 5, "title": null}}
      }
    }
  ]
}
